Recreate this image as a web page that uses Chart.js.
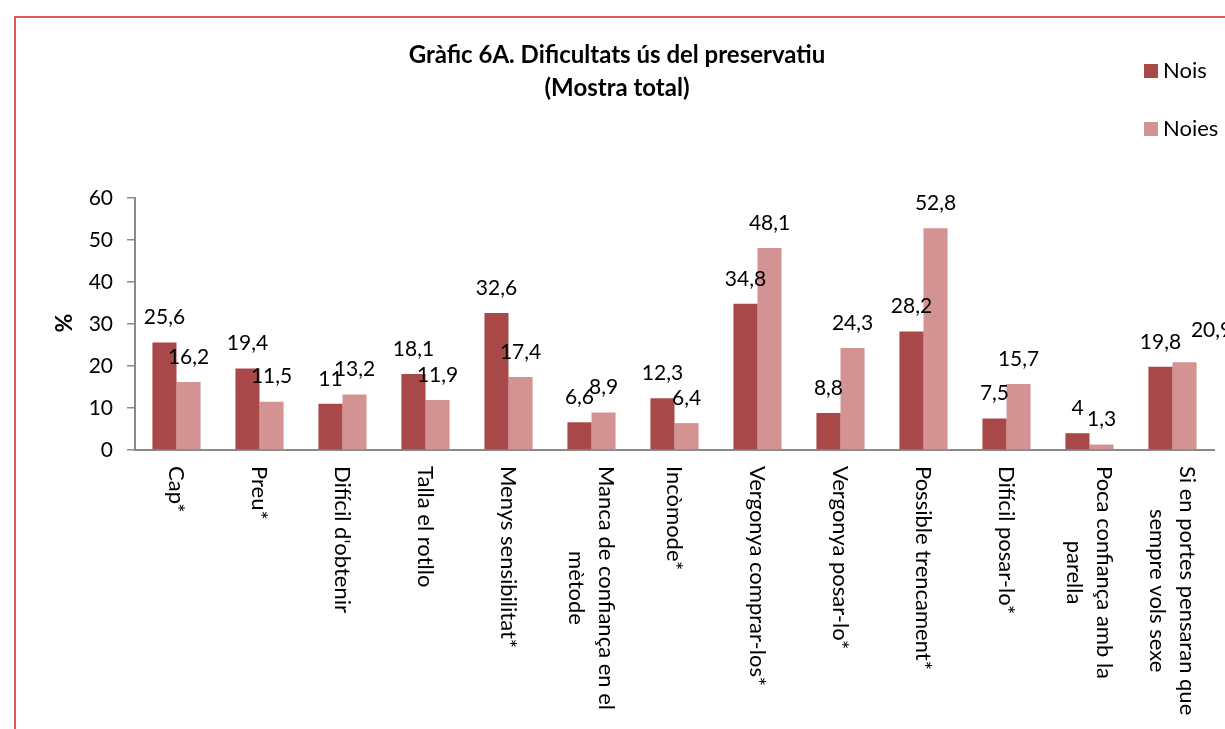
<!DOCTYPE html>
<html>
<head>
<meta charset="utf-8">
<script src="https://cdn.jsdelivr.net/npm/chart.js@4.4.0/dist/chart.umd.min.js"></script>
<style>
  html, body { margin: 0; padding: 0; background: #fff; overflow: hidden; }
  #frame { position: absolute; left: 14px; top: 16px; width: 1400px; height: 900px; border: 2px solid rgb(218,90,90); box-sizing: border-box; }
  canvas { position: absolute; left: 0; top: 0; }
</style>
</head>
<body>
<div id="frame"></div>
<canvas id="c" width="1225" height="729"></canvas>
<script>
const categories = [
  ["Cap*"],
  ["Preu*"],
  ["Difícil d'obtenir"],
  ["Talla el rotllo"],
  ["Menys sensibilitat*"],
  ["Manca de confiança en el", "mètode"],
  ["Incòmode*"],
  ["Vergonya comprar-los*"],
  ["Vergonya posar-lo*"],
  ["Possible trencament*"],
  ["Difícil posar-lo*"],
  ["Poca confiança amb la", "parella"],
  ["Si en portes pensaran que", "sempre vols sexe"]
];
const nois  = [25.6, 19.4, 11, 18.1, 32.6, 6.6, 12.3, 34.8, 8.8, 28.2, 7.5, 4, 19.8];
const noies = [16.2, 11.5, 13.2, 11.9, 17.4, 8.9, 6.4, 48.1, 24.3, 52.8, 15.7, 1.3, 20.9];
const seriesNames = ["Nois", "Noies"];
const seriesColors = ["#A94848", "#D39393"];
const titleLines = ["Gràfic 6A. Dificultats ús del preservatiu", "(Mostra total)"];
const yTicks = [0, 10, 20, 30, 40, 50, 60];

const FONT = "Lato, 'Open Sans', sans-serif";
const fmt = v => String(v).replace('.', ',');
// label nudges (dataset index, category index) -> [dx, dy], as placed in the source
const labelNudge = { "1-12": [27, -7] };

const customDraw = {
  id: 'customDraw',
  afterDatasetsDraw(chart) {
    const ctx = chart.ctx;
    ctx.save();
    ctx.fillStyle = '#000';
    ctx.font = '21px ' + FONT;
    ctx.textAlign = 'center';
    ctx.textBaseline = 'middle';
    chart.data.datasets.forEach((ds, di) => {
      chart.getDatasetMeta(di).data.forEach((bar, i) => {
        const n = labelNudge[di + '-' + i] || [0, 0];
        ctx.fillText(fmt(ds.data[i]), bar.x + n[0], bar.y - 25 + n[1]);
      });
    });
    ctx.restore();
  },
  afterDraw(chart) {
    const ctx = chart.ctx;
    const xs = chart.scales.x;
    ctx.save();
    ctx.fillStyle = '#000';
    ctx.font = '22px ' + FONT;
    ctx.textBaseline = 'middle';
    ctx.textAlign = 'center';
    const lh = 30;
    categories.forEach((lines, i) => {
      const x = xs.getPixelForValue(i);
      let w = 0;
      lines.forEach(l => { w = Math.max(w, ctx.measureText(l).width); });
      ctx.save();
      ctx.translate(x, 466);
      ctx.rotate(Math.PI / 2);
      const n = lines.length;
      lines.forEach((l, k) => {
        const off = (k - (n - 1) / 2) * lh;
        ctx.fillText(l, w / 2, off);
      });
      ctx.restore();
    });
    // title
    ctx.font = 'bold 24px ' + FONT;
    ctx.textAlign = 'center';
    ctx.fillText(titleLines[0], 617, 55);
    ctx.fillText(titleLines[1], 617, 88);
    // y title
    ctx.save();
    ctx.translate(65, 323);
    ctx.rotate(-Math.PI / 2);
    ctx.font = 'bold 23px ' + FONT;
    ctx.fillText('%', 0, 0);
    ctx.restore();
    // legend
    ctx.font = '22px ' + FONT;
    ctx.textAlign = 'left';
    seriesNames.forEach((s, k) => {
      const y = 71 + k * 58;
      ctx.fillStyle = seriesColors[k];
      ctx.fillRect(1144, y - 7, 14, 14);
      ctx.fillStyle = '#000';
      ctx.fillText(s, 1163, y);
    });
    ctx.restore();
  }
};

new Chart(document.getElementById('c'), {
  type: 'bar',
  data: {
    labels: categories.map(c => c.join(' ')),
    datasets: [
      { label: seriesNames[0], data: nois, backgroundColor: seriesColors[0] },
      { label: seriesNames[1], data: noies, backgroundColor: seriesColors[1] }
    ]
  },
  options: {
    responsive: false,
    animation: false,
    devicePixelRatio: 1,
    layout: { padding: { top: 198, bottom: 279, left: 0, right: 11 } },
    plugins: { legend: { display: false }, tooltip: { enabled: false }, title: { display: false } },
    datasets: { bar: { categoryPercentage: 0.58, barPercentage: 1.0 } },
    scales: {
      x: {
        grid: { display: false, drawTicks: false },
        ticks: { display: false },
        border: { color: '#8a8a8a', width: 2 },
        afterFit(scale) { scale.height = 0; }
      },
      y: {
        min: 0, max: 60,
        afterBuildTicks(scale) { scale.ticks = yTicks.map(v => ({ value: v })); },
        grid: { drawOnChartArea: false, drawTicks: true, tickLength: 8, color: '#8a8a8a', lineWidth: 1.5 },
        border: { color: '#8a8a8a', width: 2 },
        ticks: { color: '#000', font: { family: FONT, size: 21 }, padding: 14 },
        afterFit(scale) { scale.width = 135; }
      }
    }
  },
  plugins: [customDraw]
});
</script>
</body>
</html>
